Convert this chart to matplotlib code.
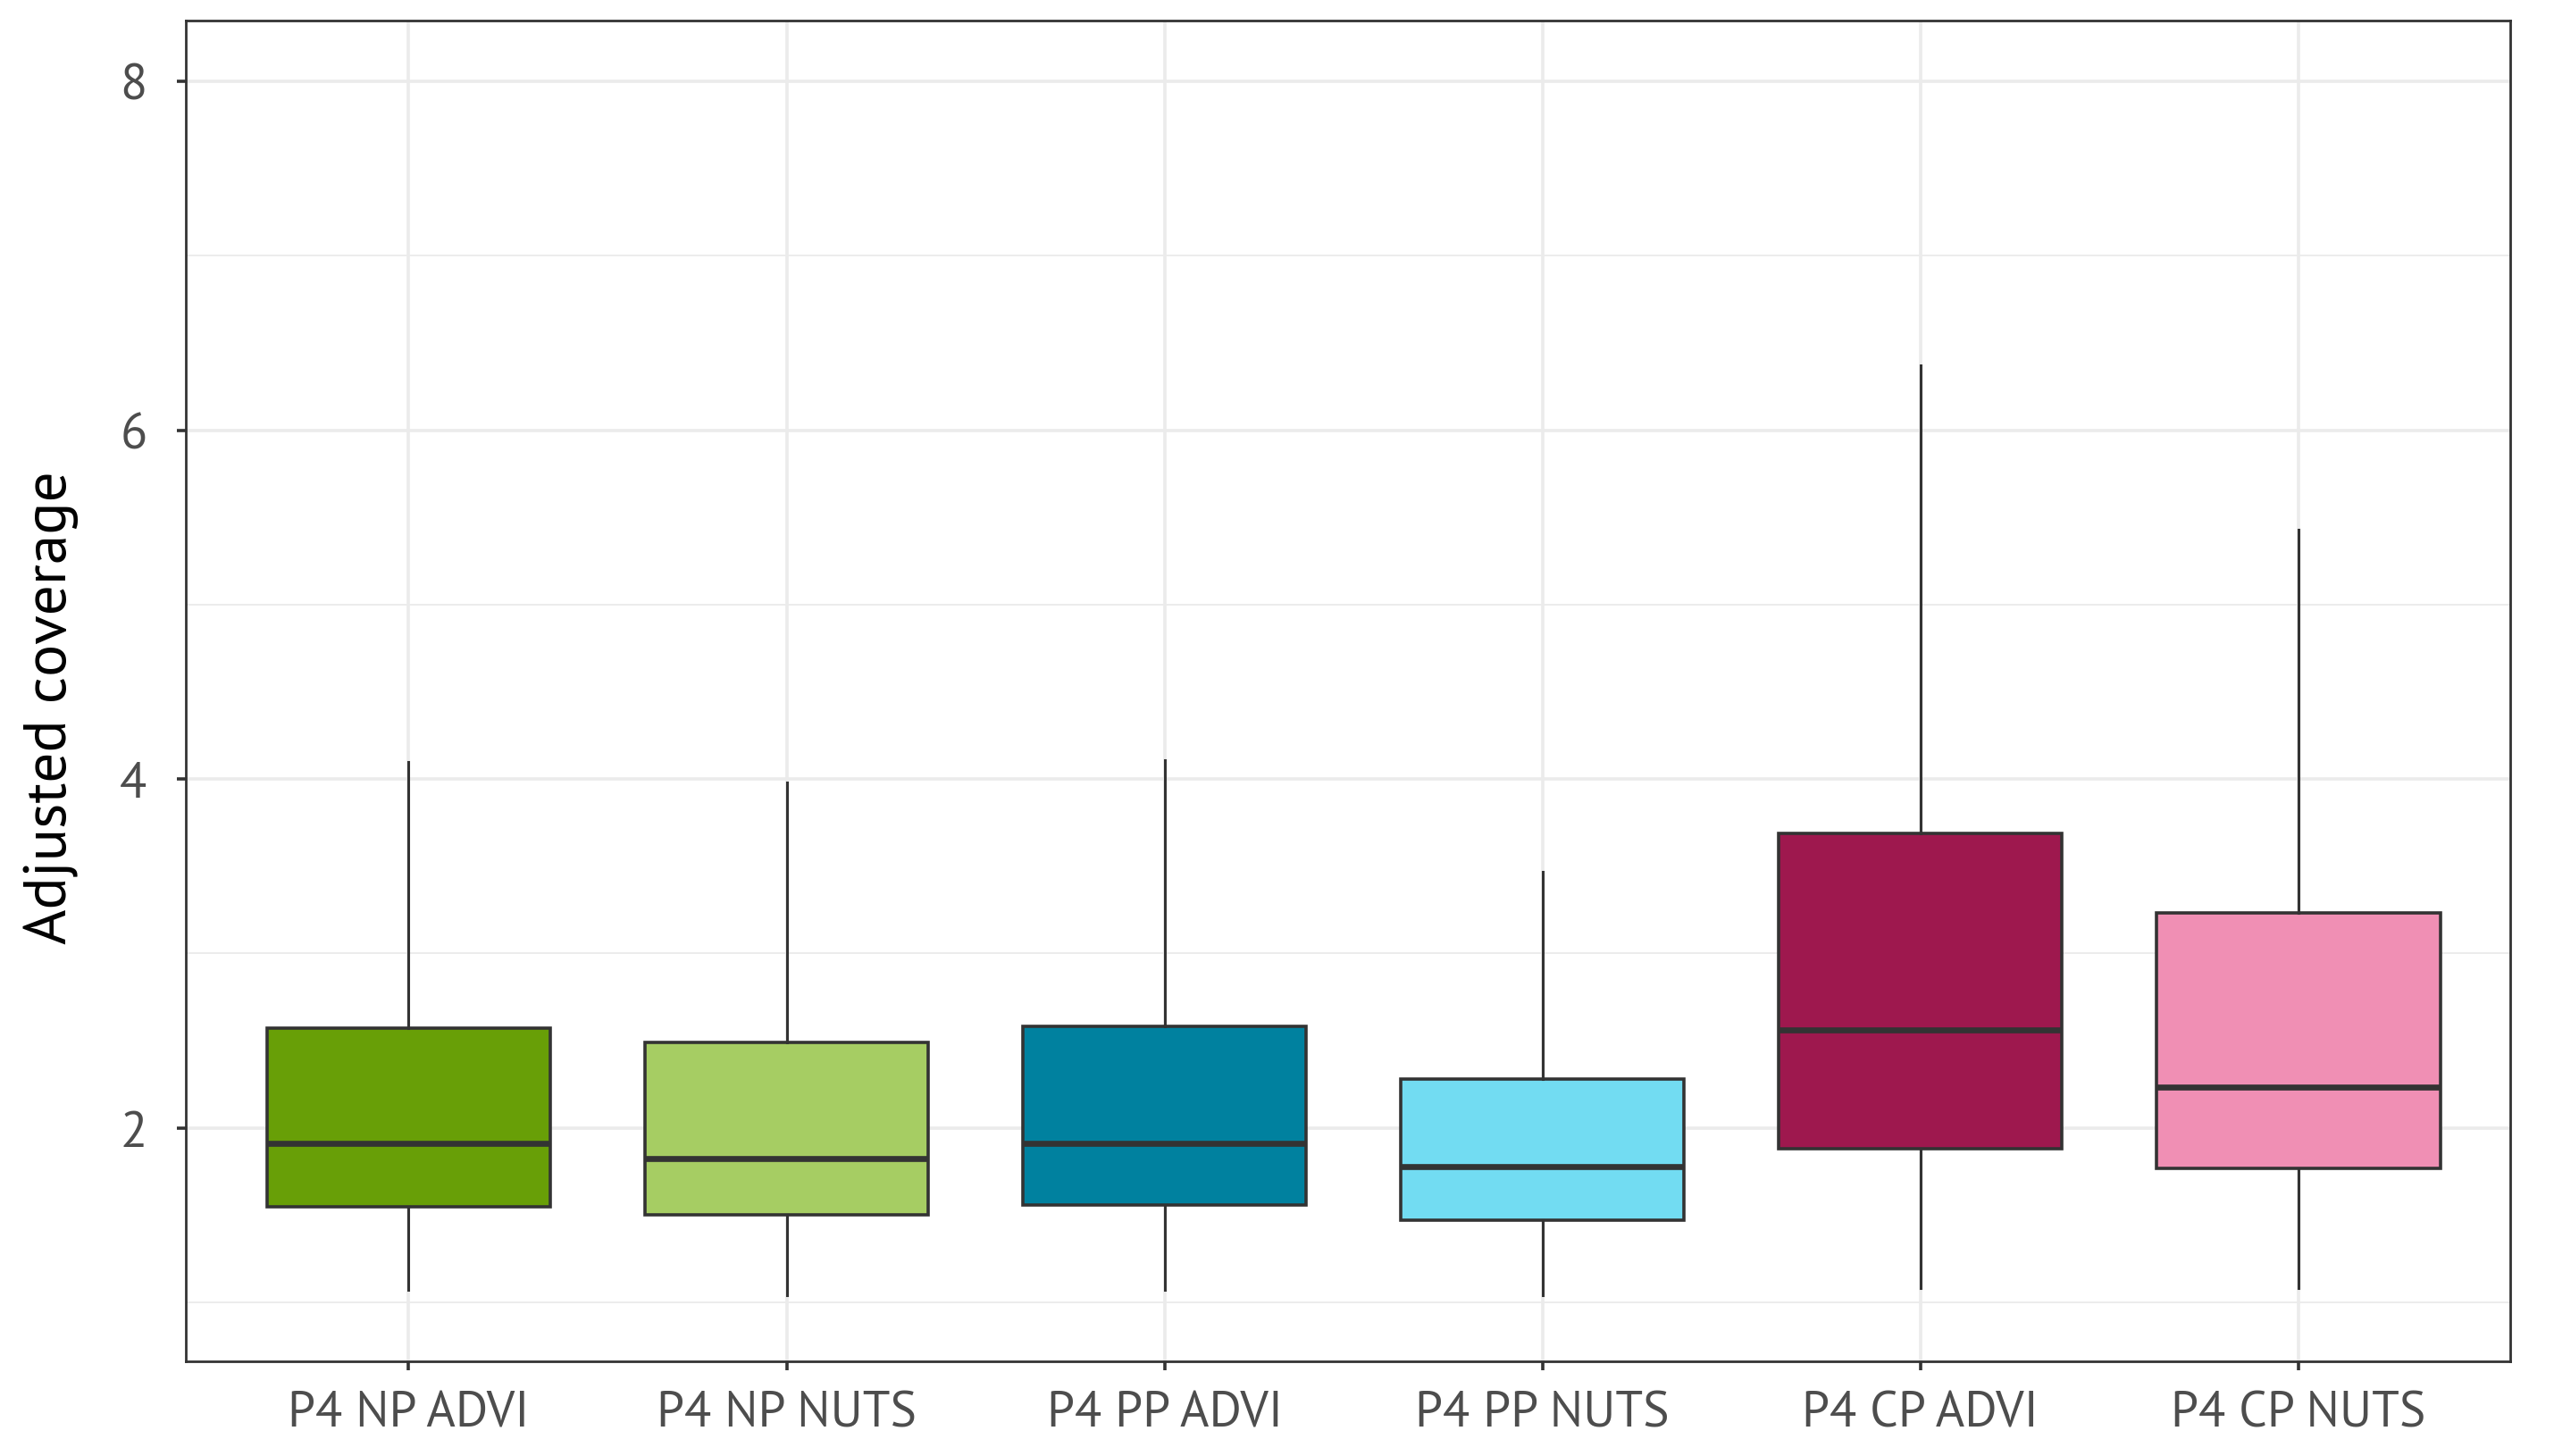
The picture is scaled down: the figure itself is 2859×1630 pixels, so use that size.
import matplotlib

matplotlib.use("Agg")
import matplotlib.pyplot as plt
from matplotlib.ticker import MultipleLocator

# values
categories = ["P4 NP ADVI", "P4 NP NUTS", "P4 PP ADVI", "P4 PP NUTS", "P4 CP ADVI", "P4 CP NUTS"]
whisker_low = [1.07, 1.04, 1.07, 1.04, 1.08, 1.08]
q1 = [1.545, 1.50, 1.56, 1.47, 1.88, 1.77]
median = [1.91, 1.825, 1.91, 1.78, 2.56, 2.235]
q3 = [2.57, 2.49, 2.58, 2.28, 3.69, 3.23]
whisker_high = [4.10, 3.98, 4.11, 3.47, 6.37, 5.43]
colors = ["#689F07", "#A6CD63", "#00819F", "#72DCF2", "#9E184E", "#F08FB4"]

plt.rcParams["font.family"] = ["PT Sans", "Fira Sans", "Open Sans", "DejaVu Sans"]

fig = plt.figure(figsize=(14.295, 8.155), dpi=200)
ax = fig.add_axes([0.0727, 0.0648, 0.9101, 0.9207])

stats = [
    {"label": c, "whislo": lo, "q1": a, "med": m, "q3": b, "whishi": hi, "fliers": []}
    for c, lo, a, m, b, hi in zip(categories, whisker_low, q1, median, q3, whisker_high)
]
positions = list(range(1, len(categories) + 1))
edge = "#333333"
bp = ax.bxp(
    stats,
    positions=positions,
    widths=0.75,
    patch_artist=True,
    showcaps=False,
    boxprops={"edgecolor": edge, "linewidth": 1.3},
    whiskerprops={"color": edge, "linewidth": 1.1},
    medianprops={"color": edge, "linewidth": 2.4},
    zorder=3,
)
for patch, col in zip(bp["boxes"], colors):
    patch.set_facecolor(col)

ax.set_xlim(0.41, 6.56)
ax.set_ylim(0.66, 8.35)
ax.yaxis.set_minor_locator(MultipleLocator(1))
ax.set_yticks([2, 4, 6, 8])
ax.set_xticks(positions)
ax.set_xticklabels(categories)

ax.grid(which="major", color="#EBEBEB", linewidth=1.3, zorder=0)
ax.grid(which="minor", axis="y", color="#EBEBEB", linewidth=0.65, zorder=0)
ax.set_axisbelow(True)

for spine in ax.spines.values():
    spine.set_color(edge)
    spine.set_linewidth(1.0)

ax.tick_params(axis="both", which="major", length=3.6, width=1.3, color=edge,
               labelsize=20, labelcolor="#4D4D4D")
ax.tick_params(axis="y", which="major", pad=12)
ax.tick_params(axis="x", which="major", pad=8)
ax.tick_params(axis="y", which="minor", length=0)
ax.set_ylabel("Adjusted coverage", fontsize=24.3, color="black")
ax.yaxis.set_label_coords(-0.046, 0.488)

fig.savefig("out.png", dpi=200, facecolor="white")
